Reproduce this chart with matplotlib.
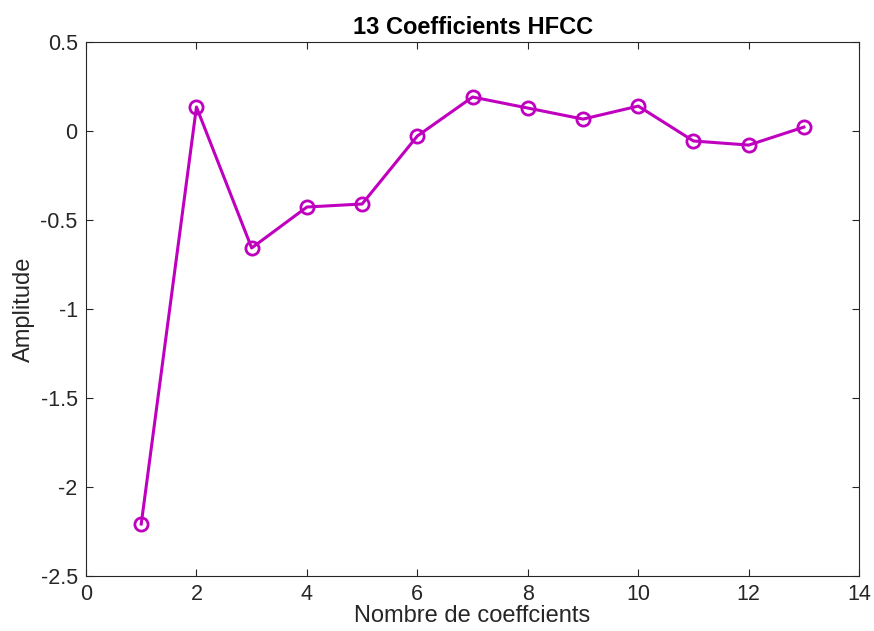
import matplotlib
matplotlib.use('Agg')
import matplotlib.pyplot as plt

# HFCC coefficient values
coef_index = [1, 2, 3, 4, 5, 6, 7, 8, 9, 10, 11, 12, 13]
amplitude = [-2.208, 0.135, -0.657, -0.427, -0.410, -0.028, 0.191,
             0.129, 0.067, 0.140, -0.056, -0.079, 0.022]

x_ticks = [0, 2, 4, 6, 8, 10, 12, 14]
y_ticks = [-2.5, -2, -1.5, -1, -0.5, 0, 0.5]
y_tick_labels = ['-2.5', '-2', '-1.5', '-1', '-0.5', '0', '0.5']

plt.rcParams['font.family'] = ['Liberation Sans', 'DejaVu Sans']

fig = plt.figure(figsize=(8.74, 6.31), dpi=100)
ax = fig.add_axes([0.0984, 0.0872, 0.8846, 0.8462])

ax.plot(coef_index, amplitude, color='#BF00BF', linewidth=2.2,
        marker='o', markersize=9.5, markerfacecolor='none',
        markeredgewidth=2.0)

ax.set_xlim(0, 14)
ax.set_ylim(-2.5, 0.5)
ax.set_xticks(x_ticks)
ax.set_yticks(y_ticks)
ax.set_yticklabels(y_tick_labels)

ax.tick_params(direction='in', top=True, right=True, length=5,
               width=0.8, colors='#262626', labelsize=15.5, pad=6)
for s in ax.spines.values():
    s.set_color('#262626')
    s.set_linewidth(0.8)

ax.set_title('13 Coefficients HFCC', fontsize=17, fontweight='bold', pad=6)
ax.set_xlabel('Nombre de coeffcients', fontsize=17, color='#262626', labelpad=0)
ax.set_ylabel('Amplitude', fontsize=17, color='#262626', labelpad=4)

fig.savefig('out.png', dpi=100)
